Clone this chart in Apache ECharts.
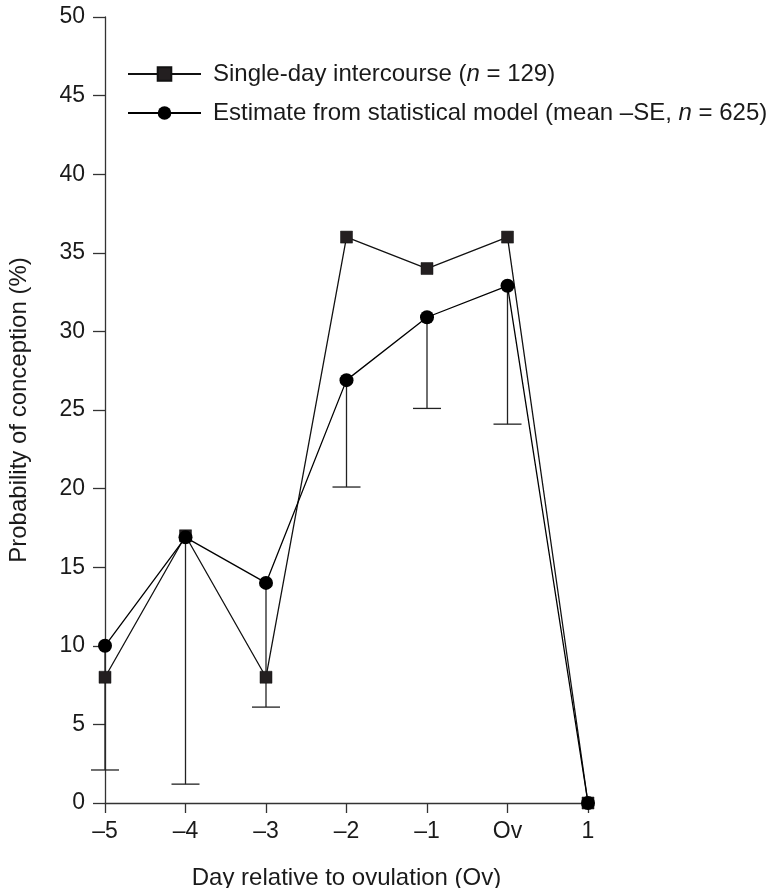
<!DOCTYPE html>
<html>
<head>
<meta charset="utf-8">
<script src="https://cdn.jsdelivr.net/npm/echarts@6/dist/echarts.min.js"></script>
<style>
  html, body { margin: 0; padding: 0; background: #fff; }
  #chart { width: 770px; height: 888px; }
</style>
</head>
<body>
<div id="chart"></div>
<script>
var days = [-5, -4, -3, -2, -1, 0, 1];
var dayLabels = ['–5', '–4', '–3', '–2', '–1', 'Ov', '1'];
var singleDay = [8, 17, 8, 36, 34, 36, 0];
var modelMean = [10, 16.9, 14, 26.9, 30.9, 32.9, 0];
var modelLow = [2.1, 1.2, 6.1, 20.1, 25.1, 24.1, null];

var font = 'Liberation Sans, Arial, Helvetica, sans-serif';
var ink = '#1a1a1a';

var myChart = echarts.init(document.getElementById('chart'));

var squarePts = days.map(function (d, i) { return [d, singleDay[i]]; });
var circlePts = days.map(function (d, i) { return [d, modelMean[i]]; });
var errPts = [];
days.forEach(function (d, i) {
  if (modelLow[i] != null) errPts.push([d, modelMean[i], modelLow[i]]);
});

var option = {
  animation: false,
  textStyle: { fontFamily: font, color: ink },
  grid: { left: 105, right: 182, top: 17, bottom: 85, outerBoundsMode: 'none' },
  legend: {
    orient: 'vertical',
    left: 127,
    top: 62,
    padding: 0,
    itemWidth: 73,
    itemHeight: 17,
    itemGap: 15,
    textStyle: {
      fontSize: 24, color: ink, fontFamily: font, padding: [0, 0, 0, 7],
      rich: { i: { fontStyle: 'italic', fontSize: 24, fontFamily: font, color: ink } }
    },
    data: ['single', 'model'],
    formatter: function (name) {
      if (name === 'single') return 'Single-day intercourse ({i|n} = 129)';
      return 'Estimate from statistical model (mean –SE, {i|n} = 625)';
    }
  },
  xAxis: {
    type: 'value',
    min: -5,
    max: 1,
    interval: 1,
    name: 'Day relative to ovulation (Ov)',
    nameLocation: 'middle',
    nameGap: 63,
    nameTextStyle: { fontSize: 24, color: ink },
    axisLine: { lineStyle: { color: '#333', width: 1.3 } },
    axisTick: { length: 10, lineStyle: { color: '#333', width: 1.3 } },
    axisLabel: {
      fontSize: 23, color: ink, margin: 17,
      formatter: function (v) { return dayLabels[days.indexOf(v)]; }
    },
    splitLine: { show: false }
  },
  yAxis: {
    type: 'value',
    min: 0,
    max: 50,
    interval: 5,
    name: 'Probability of conception (%)',
    nameLocation: 'middle',
    nameGap: 74,
    nameTextStyle: { fontSize: 24, color: ink },
    axisLine: { show: true, onZero: false, lineStyle: { color: '#333', width: 1.3 } },
    axisTick: { show: true, length: 12, lineStyle: { color: '#333', width: 1.3 } },
    axisLabel: { fontSize: 23, color: ink, margin: 20 },
    splitLine: { show: false }
  },
  series: [
    {
      name: 'errors',
      type: 'custom',
      data: errPts,
      z: 1,
      renderItem: function (params, api) {
        var top = api.coord([api.value(0), api.value(1)]);
        var low = api.coord([api.value(0), api.value(2)]);
        var st = { stroke: '#222', lineWidth: 1.3 };
        return {
          type: 'group',
          children: [
            { type: 'line', shape: { x1: top[0], y1: top[1], x2: low[0], y2: low[1] }, style: st },
            { type: 'line', shape: { x1: low[0] - 14, y1: low[1], x2: low[0] + 14, y2: low[1] }, style: st }
          ]
        };
      }
    },
    {
      name: 'single',
      type: 'line',
      data: squarePts,
      z: 2,
      symbol: 'rect',
      symbolSize: 12,
      showAllSymbol: true,
      lineStyle: { color: '#111', width: 1.3 },
      itemStyle: { color: '#231f20', borderColor: '#111', borderWidth: 0.5 }
    },
    {
      name: 'model',
      type: 'line',
      data: circlePts,
      z: 3,
      symbol: 'circle',
      symbolSize: 14,
      showAllSymbol: true,
      lineStyle: { color: '#000', width: 1.3 },
      itemStyle: { color: '#000', borderWidth: 0 }
    }
  ]
};

myChart.setOption(option);
</script>
</body>
</html>
